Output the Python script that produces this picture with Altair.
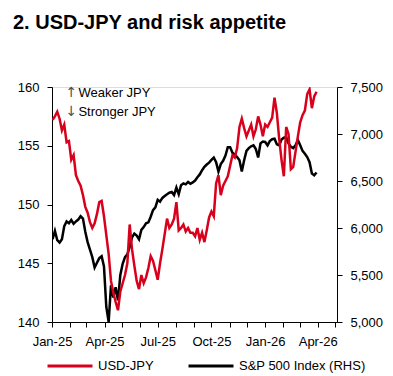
import altair as alt
import pandas as pd
from datetime import date, timedelta

# x-axis: observation dates, every 4 days from 2 Jan 2025
START = date(2025, 1, 2)
N_OBS = 114
dates = [(START + timedelta(days=4 * i)).isoformat() for i in range(N_OBS)]

usdjpy = [
    157.2, 157.5, 157.9, 157.3, 156.3, 156.8, 155.3, 155.4, 153.8, 154.2,
    152.5, 152.0, 151.6, 150.8, 149.8, 149.3, 148.5, 148.0, 148.4, 149.2,
    150.2, 150.3, 149.0, 147.4, 145.8, 143.5, 142.5, 141.7, 141.0, 142.6,
    143.3, 144.0, 145.0, 148.3, 146.2, 144.8, 143.5, 142.8, 144.0, 143.3,
    143.8, 144.6, 145.6, 145.2, 144.4, 143.6, 145.0, 146.2, 147.5, 148.8,
    148.0, 148.3, 148.8, 150.2, 147.8, 148.0, 148.3, 147.7, 148.0, 147.6,
    147.6, 147.3, 148.0, 147.0, 147.6, 146.8, 147.8, 148.9, 149.4, 149.0,
    151.8, 152.5, 150.8, 151.6, 152.0, 152.4, 153.3, 154.2, 154.0, 154.8,
    156.6, 157.3, 156.5, 155.8, 156.3, 156.8, 155.8, 156.4, 157.5, 156.8,
    155.8, 156.8, 156.6, 157.0, 157.4, 159.1, 157.8, 155.6, 153.8, 152.4,
    156.6, 156.0, 153.0, 153.2, 154.5, 155.8, 157.0, 157.6, 158.0, 159.4,
    159.8, 158.2, 159.2, 159.6,
]

spx = [
    5880, 5970, 5870, 5845, 5880, 6020, 6070, 6050, 6085, 6045,
    6070, 6090, 6125, 6100, 5960, 5850, 5770, 5690, 5580, 5630,
    5680, 5700, 5590, 5160, 5000, 5390, 5260, 5370, 5230, 5500,
    5620, 5690, 5720, 5800, 5900, 5940, 5920, 5880, 5980, 6010,
    6050, 6060, 6120, 6190, 6220, 6300, 6280, 6320, 6340, 6360,
    6375, 6383, 6350, 6430, 6360, 6455, 6475, 6465, 6490, 6470,
    6485, 6505, 6540, 6570, 6615, 6650, 6675, 6695, 6725, 6750,
    6700, 6600, 6680, 6715, 6770, 6860, 6860, 6800, 6780, 6755,
    6720, 6600, 6720, 6820, 6850, 6870, 6880, 6840, 6750, 6900,
    6920, 6915, 6880, 6925, 6945, 6950, 6890, 6880, 6940, 6960,
    6965, 6900, 6865, 6850, 6880, 6935, 6880, 6820, 6790, 6755,
    6700, 6580, 6560, 6590,
]

series_names = ["USD-JPY", "S&P 500 Index (RHS)"]
series_colors = ["#D8001C", "#000000"]

left_ticks = [140, 145, 150, 155, 160]
right_ticks = [5000, 5500, 6000, 6500, 7000, 7500]
x_domain = ["2025-01-01", "2026-05-04"]

note_arrows = ["\u2191", "\u2193"]
notes = ["Weaker JPY", "Stronger JPY"]
note_dates = ["2025-01-24", "2025-01-24"]
note_levels = [159.5, 157.9]

FONT = "Liberation Sans"


def utc_ms(s):
    return int(pd.Timestamp(s, tz="UTC").value // 10**6)


x_domain_ms = [utc_ms(s) for s in x_domain]

df_jpy = pd.DataFrame({"date": dates, "value": usdjpy, "series": series_names[0]})
df_spx = pd.DataFrame({"date": dates, "value": spx, "series": series_names[1]})
df_notes = pd.DataFrame({"date": note_dates, "value": note_levels,
                         "arrow": note_arrows, "text": notes})

x_scale = alt.Scale(type="utc", domain=x_domain_ms)
y_left_scale = alt.Scale(domain=[140, 160], nice=False, zero=False)

x_axis = alt.Axis(
    title=None, grid=False,
    tickCount={"interval": "month", "step": 1},
    labelExpr="utcmonth(datum.value) % 3 == 0 ? utcFormat(datum.value, '%b-%y') : ''",
    tickSize=5, labelPadding=8, labelFontSize=13, labelFont=FONT,
    labelColor="#000000", domainColor="#000000", tickColor="#000000",
    labelOverlap=False, labelFlush=False,
)

color_enc = alt.Color(
    "series:N",
    scale=alt.Scale(domain=series_names, range=series_colors),
    legend=alt.Legend(
        title=None, orient="none", legendX=-6, legendY=255, direction="horizontal",
        symbolType="stroke", symbolSize=2025, symbolStrokeWidth=3,
        labelFontSize=13, labelFont=FONT, labelColor="#000000",
        labelOffset=4, columnPadding=28, padding=0,
    ),
)

jpy = alt.Chart(df_jpy).mark_line(strokeWidth=2.5, clip=True).encode(
    x=alt.X("date:T", scale=x_scale, axis=x_axis),
    y=alt.Y("value:Q", scale=y_left_scale,
            axis=alt.Axis(title=None, values=left_ticks, grid=False, orient="left",
                          tickSize=5, labelPadding=8, labelFontSize=13, labelFont=FONT,
                          labelColor="#000000", domainColor="#000000", tickColor="#000000")),
    color=color_enc,
)

spx_line = alt.Chart(df_spx).mark_line(strokeWidth=2.5, clip=True).encode(
    x=alt.X("date:T", scale=x_scale, axis=x_axis),
    y=alt.Y("value:Q", scale=alt.Scale(domain=[5000, 7500], nice=False, zero=False),
            axis=alt.Axis(title=None, values=right_ticks, grid=False, orient="right",
                          format=",.0f", tickSize=5, labelPadding=8, labelFontSize=13,
                          labelFont=FONT, labelColor="#000000", domainColor="#000000",
                          tickColor="#000000")),
    color=color_enc,
)

note_base = alt.Chart(df_notes).encode(
    x=alt.X("date:T", scale=x_scale, axis=x_axis),
    y=alt.Y("value:Q", scale=y_left_scale, axis=None),
)
arrow_layer = note_base.mark_text(
    align="left", baseline="middle", fontSize=14, font="DejaVu Sans", color="#505050"
).encode(text="arrow:N")
note_layer = note_base.mark_text(
    align="left", baseline="middle", fontSize=13, font=FONT, color="#000000", dx=13
).encode(text="text:N")

chart = alt.layer(spx_line, jpy, arrow_layer, note_layer).resolve_scale(
    y="independent"
).properties(
    width=285, height=235,
    title=alt.TitleParams(
        "2. USD-JPY and risk appetite", anchor="start", frame="group",
        fontSize=20, font=FONT, fontWeight="bold", color="#000000",
        dx=-39, offset=32, baseline="alphabetic",
    ),
    autosize=alt.AutoSizeParams(type="none"),
    padding={"left": 52, "top": 87, "right": 56, "bottom": 54},
).configure_view(stroke=None).configure(background="#FFFFFF")

chart.save("out.html", embed_options={"renderer": "svg", "actions": False})
